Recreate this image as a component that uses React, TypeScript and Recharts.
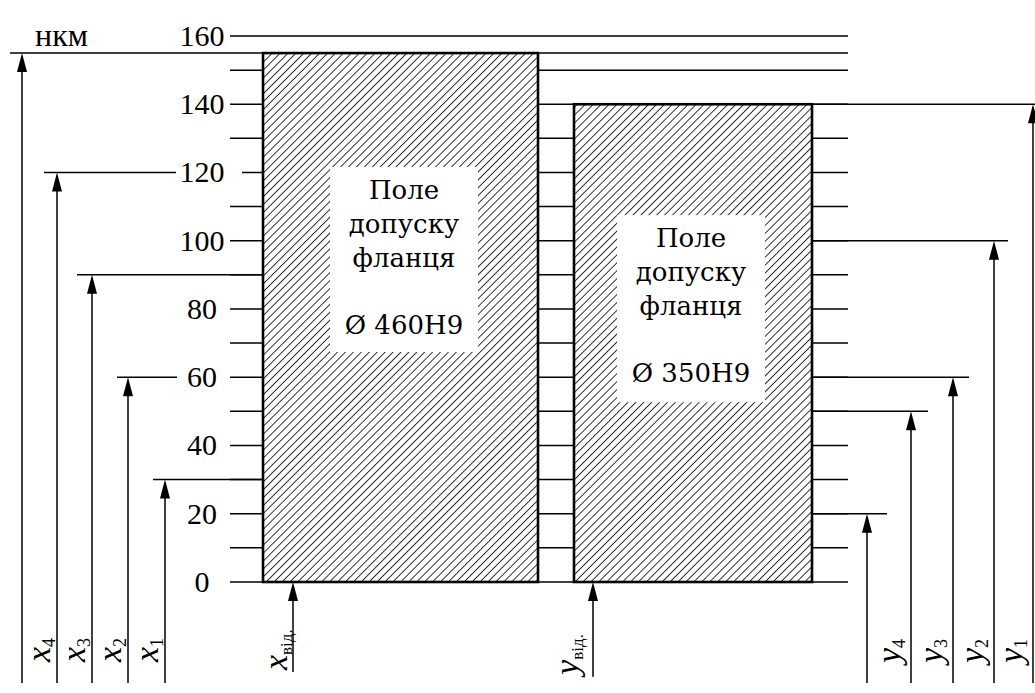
import React from "react";
import { ComposedChart, XAxis, YAxis, ReferenceLine, ReferenceArea } from "recharts";

// values in мкм
const yTicks = [0, 20, 40, 60, 80, 100, 120, 140, 160];
const gridValues = [0, 10, 20, 30, 40, 50, 60, 70, 80, 90, 100, 110, 120, 130, 140, 150, 160];

const flangeNames = ["Ø 460H9", "Ø 350H9"];
const flangeUpper = [155, 140];
const flangeLower = [0, 0];

const leftArrowValues = [155, 120, 90, 60, 30];
const leftArrowSubs = ["", "4", "3", "2", "1"];
const rightArrowValues = [20, 50, 60, 100, 140];
const rightArrowSubs = ["", "4", "3", "2", "1"];
const zeroArrowNames = ["x", "y"];
const zeroArrowSub = "від.";

// layout (pixel-like x units, since the x axis spans the page)
const W = 1035;
const H = 693;
const barX = [
  [263, 538],
  [574, 812],
];
const boxX = [
  [330, 478],
  [617, 765],
];
const boxY = [
  [67.4, 121.6],
  [52.7, 107.5],
];
const leftArrowX = [22, 57, 92, 128, 165];
const leftLineFrom = [10, 44, 77, 117, 153];
const leftLineTo = [848, 176, 263, 177, 263];
const rightArrowX = [867, 911, 953, 994, 1033];
const rightLineTo = [887, 928, 969, 1008, 1035];
const zeroArrowX = [293, 593];
const GRID_LEFT = 230;
const GRID_RIGHT = 848;
const ARROW_BOTTOM = -29.6;

const SERIF = "'Liberation Serif', 'Times New Roman', serif";
const BOX_FONT = "'DejaVu Serif', serif";

function arrowShape(
  base: string,
  sub: string,
  labelDx: number,
  labelUp: number,
  italicBase = true,
  subSize = 18
) {
  return (p: any) => {
    const x = p.x1;
    const tip = Math.min(p.y1, p.y2);
    const bottom = Math.max(p.y1, p.y2);
    return (
      <g>
        <line x1={x} y1={bottom} x2={x} y2={tip + 6} stroke="#000" strokeWidth={1.5} />
        <polygon points={`${x},${tip} ${x - 5},${tip + 19} ${x + 5},${tip + 19}`} fill="#000" />
        {base && (
          <text
            transform={`translate(${x - labelDx},${bottom - labelUp}) rotate(-90)`}
            fontFamily={SERIF}
            fontSize={34}
            fill="#000"
          >
            <tspan fontStyle={italicBase ? "italic" : "normal"}>{base}</tspan>
            <tspan fontSize={subSize} dy={5}>
              {sub}
            </tspan>
          </text>
        )}
      </g>
    );
  };
}

function nkmShape(p: any) {
  const x = p.x1;
  const tip = Math.min(p.y1, p.y2);
  const bottom = Math.max(p.y1, p.y2);
  return (
    <g>
      <line x1={x} y1={bottom} x2={x} y2={tip + 6} stroke="#000" strokeWidth={1.5} />
      <polygon points={`${x},${tip} ${x - 5},${tip + 19} ${x + 5},${tip + 19}`} fill="#000" />
      <text x={x + 13} y={tip - 7} fontFamily={SERIF} fontSize={32} fill="#000">
        нкм
      </text>
    </g>
  );
}

function barShape(p: any) {
  const { x, y, width, height } = p;
  return (
    <g>
      <defs>
        <pattern id="hatch" patternUnits="userSpaceOnUse" width={5.6} height={5.6} patternTransform="rotate(45)">
          <line x1={0} y1={0} x2={0} y2={5.6} stroke="#000" strokeWidth={1.6} />
        </pattern>
      </defs>
      <rect x={x} y={y} width={width} height={height} fill="#fff" />
      <rect x={x} y={y} width={width} height={height} fill="url(#hatch)" stroke="#000" strokeWidth={2.6} />
    </g>
  );
}

function boxShape(name: string) {
  return (p: any) => {
    const { x, y, width, height } = p;
    const cx = x + width / 2;
    const lines = ["Поле", "допуску", "фланця"];
    return (
      <g>
        <rect x={x} y={y} width={width} height={height} fill="#fff" />
        {lines.map((t, i) => (
          <text key={t} x={cx} y={y + 32 + i * 34} textAnchor="middle" fontFamily={BOX_FONT} fontSize={26} fill="#000">
            {t}
          </text>
        ))}
        <text x={cx} y={y + 167} textAnchor="middle" fontFamily={BOX_FONT} fontSize={26} fill="#000">
          {name}
        </text>
      </g>
    );
  };
}

function gridSegments(v: number): Array<[number, number]> {
  if (v === 0 || v > flangeUpper[0]) return [[GRID_LEFT, GRID_RIGHT]];
  const segs: Array<[number, number]> = [[v === 120 ? 242 : GRID_LEFT, barX[0][0]]];
  if (v > flangeUpper[1]) segs.push([barX[0][1], GRID_RIGHT]);
  else {
    segs.push([barX[0][1], barX[1][0]]);
    segs.push([barX[1][1], GRID_RIGHT]);
  }
  return segs;
}

const renderTick = (props: any) => (
  <text x={202} y={props.y + 10} textAnchor="middle" fontFamily={SERIF} fontSize={30} fill="#000">
    {props.payload.value}
  </text>
);

export default function App() {
  const line = { stroke: "#000", strokeWidth: 1.5 };
  return (
    <div style={{ position: "absolute", left: 0, top: 0, background: "#fff" }}>
      <ComposedChart width={W} height={H} margin={{ top: 0, right: 0, bottom: 0, left: 0 }}>
        <XAxis type="number" dataKey="x" domain={[0, W]} allowDataOverflow hide />
        <YAxis
          type="number"
          domain={[-32.53, 170.55]}
          allowDataOverflow
          ticks={yTicks}
          interval={0}
          mirror
          axisLine={false}
          tickLine={false}
          tick={renderTick}
        />
        {gridValues.flatMap((v) =>
          gridSegments(v).map(([a, b], i) => (
            <ReferenceLine key={`g${v}-${i}`} segment={[{ x: a, y: v }, { x: b, y: v }]} {...line} />
          ))
        )}
        {leftArrowValues.map((v, i) => (
          <ReferenceLine
            key={`lh${i}`}
            segment={[{ x: leftLineFrom[i], y: v }, { x: leftLineTo[i], y: v }]}
            {...line}
          />
        ))}
        {rightArrowValues.map((v, i) => (
          <ReferenceLine key={`rh${i}`} segment={[{ x: barX[1][1], y: v }, { x: rightLineTo[i], y: v }]} {...line} />
        ))}
        {flangeUpper.map((v, i) => (
          <ReferenceArea
            key={`bar${i}`}
            x1={barX[i][0]}
            x2={barX[i][1]}
            y1={flangeLower[i]}
            y2={v}
            shape={barShape}
          />
        ))}
        {flangeNames.map((n, i) => (
          <ReferenceArea
            key={`box${i}`}
            x1={boxX[i][0]}
            x2={boxX[i][1]}
            y1={boxY[i][0]}
            y2={boxY[i][1]}
            shape={boxShape(n)}
          />
        ))}
        {leftArrowValues.map((v, i) => (
          <ReferenceLine
            key={`la${i}`}
            segment={[{ x: leftArrowX[i], y: ARROW_BOTTOM }, { x: leftArrowX[i], y: v }]}
            shape={i === 0 ? nkmShape : arrowShape("x", leftArrowSubs[i], 7, 21)}
          />
        ))}
        {rightArrowValues.map((v, i) => (
          <ReferenceLine
            key={`ra${i}`}
            segment={[{ x: rightArrowX[i], y: ARROW_BOTTOM }, { x: rightArrowX[i], y: v }]}
            shape={arrowShape(rightArrowSubs[i] ? "y" : "", rightArrowSubs[i], 11, 20)}
          />
        ))}
        {zeroArrowNames.map((n, i) => (
          <ReferenceLine
            key={`za${i}`}
            segment={[{ x: zeroArrowX[i], y: i === 0 ? -26.4 : -27.8 }, { x: zeroArrowX[i], y: 0 }]}
            shape={arrowShape(n, zeroArrowSub, i === 0 ? 6 : 15, 2, true, 17)}
          />
        ))}
      </ComposedChart>
    </div>
  );
}
